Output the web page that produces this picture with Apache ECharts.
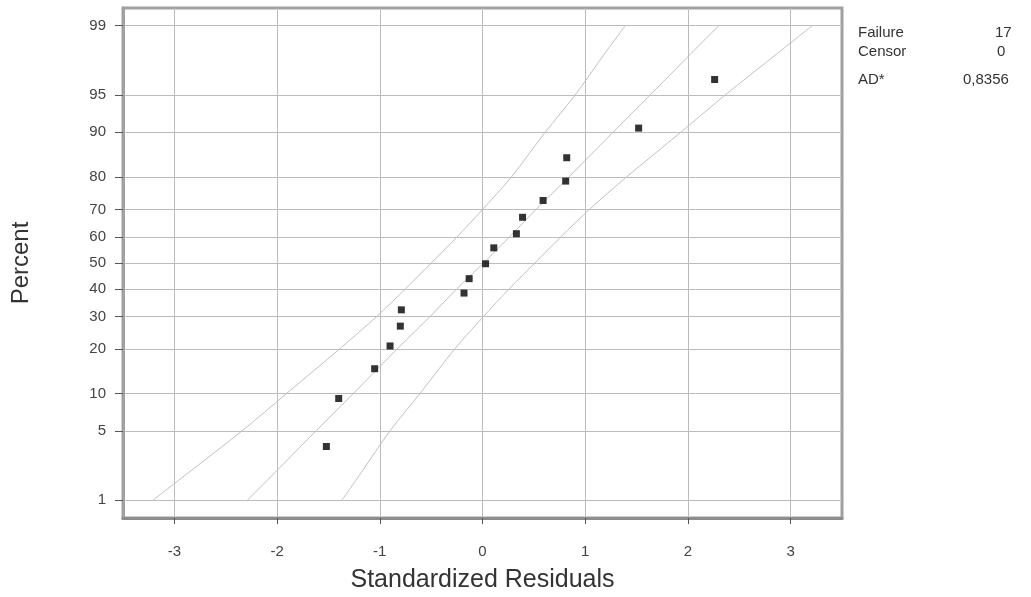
<!DOCTYPE html>
<html>
<head>
<meta charset="utf-8">
<script src="https://cdn.jsdelivr.net/npm/echarts@6/dist/echarts.min.js"></script>
<style>
  html, body { margin: 0; padding: 0; background: #fff; }
  #main { width: 1031px; height: 597px; }
</style>
</head>
<body>
<div id="main"></div>
<script>
// points
var residuals = [-1.52, -1.40, -1.05, -0.90, -0.80, -0.79, -0.18, -0.13, 0.03, 0.11, 0.33, 0.39, 0.59, 0.81, 0.82, 1.52, 2.26];
var percents = [3.6, 9.2, 15.0, 20.8, 26.8, 32.3, 38.4, 43.9, 49.7, 55.9, 61.3, 67.3, 73.0, 78.9, 84.9, 90.7, 96.4];

// fitted line and confidence bounds, x read at these percent levels
var bandPcts = [1, 2, 5, 10, 20, 30, 40, 50, 60, 70, 80, 90, 95, 98, 99];
var fitLine = [-2.29, -2.02, -1.62, -1.26, -0.83, -0.51, -0.25, 0.01, 0.26, 0.52, 0.84, 1.27, 1.63, 2.03, 2.30];
var leftBound = [-3.21, -2.86, -2.34, -1.91, -1.39, -1.03, -0.75, -0.50, -0.25, 0.00, 0.28, 0.61, 0.90, 1.19, 1.39];
var rightBound = [-1.37, -1.18, -0.90, -0.61, -0.27, 0.01, 0.26, 0.51, 0.76, 1.04, 1.40, 1.93, 2.36, 2.87, 3.21];

var yTicks = [1, 5, 10, 20, 30, 40, 50, 60, 70, 80, 90, 95, 99];
var xTicks = [-3, -2, -1, 0, 1, 2, 3];

var stats = [
  { label: "Failure", value: "17" },
  { label: "Censor", value: "0" },
  { label: "AD*", value: "0,8356" }
];

// normal probability scale (inverse normal cdf, Acklam)
function probit(p) {
  var a = [-39.69683028665376, 220.9460984245205, -275.9285104469687, 138.3577518672690, -30.66479806614716, 2.506628277459239];
  var b = [-54.47609879822406, 161.5858368580409, -155.6989798598866, 66.80131188771972, -13.28068155288572];
  var c = [-0.007784894002430293, -0.3223964580411365, -2.400758277161838, -2.549732539343734, 4.374664141464968, 2.938163982698783];
  var d = [0.007784695709041462, 0.3224671290700398, 2.445134137142996, 3.754408661907416];
  var pl = 0.02425, q, r;
  if (p < pl) {
    q = Math.sqrt(-2 * Math.log(p));
    return (((((c[0] * q + c[1]) * q + c[2]) * q + c[3]) * q + c[4]) * q + c[5]) / ((((d[0] * q + d[1]) * q + d[2]) * q + d[3]) * q + 1);
  }
  if (p > 1 - pl) {
    q = Math.sqrt(-2 * Math.log(1 - p));
    return -(((((c[0] * q + c[1]) * q + c[2]) * q + c[3]) * q + c[4]) * q + c[5]) / ((((d[0] * q + d[1]) * q + d[2]) * q + d[3]) * q + 1);
  }
  q = p - 0.5;
  r = q * q;
  return (((((a[0] * r + a[1]) * r + a[2]) * r + a[3]) * r + a[4]) * r + a[5]) * q / (((((b[0] * r + b[1]) * r + b[2]) * r + b[3]) * r + b[4]) * r + 1);
}

function toZ(pct) { return probit(pct / 100); }

var yTickZ = yTicks.map(toZ);

function linePairs(xs) {
  return xs.map(function (x, i) { return [x, toZ(bandPcts[i])]; });
}

var lineStyleBand = { color: "#c2c2c2", width: 1 };

var myChart = echarts.init(document.getElementById("main"));

var graphics = [];
stats.forEach(function (s, i) {
  var y = [33, 52, 80][i];
  graphics.push({
    type: "text", left: 858, top: y - 8,
    style: { text: s.label, font: "15px 'Liberation Sans', Arial, sans-serif", fill: "#333" }
  });
  graphics.push({
    type: "text", left: [995, 997, 963][i], top: y - 8,
    style: { text: s.value, font: "15px 'Liberation Sans', Arial, sans-serif", fill: "#333" }
  });
});

var option = {
  animation: false,
  backgroundColor: "#fff",
  textStyle: { fontFamily: "'Liberation Sans', Arial, sans-serif" },
  grid: {
    left: 123, top: 8, width: 719, height: 510,
    show: true, borderColor: "#a0a0a0", borderWidth: 3,
    containLabel: false, outerBoundsMode: "none"
  },
  graphic: graphics,
  xAxis: {
    type: "value",
    min: -3.5, max: 3.5,
    name: "Standardized Residuals",
    nameLocation: "middle",
    nameGap: 50,
    nameTextStyle: { fontSize: 25, color: "#333" },
    axisLine: { show: true, onZero: false, lineStyle: { color: "#8c8c8c", width: 3 } },
    axisTick: { show: true, length: 6, customValues: xTicks, lineStyle: { color: "#555", width: 1 } },
    axisLabel: {
      customValues: xTicks, margin: 26, fontSize: 15, color: "#444",
      formatter: function (v) { return String(Math.round(v)); }
    },
    splitLine: { show: true, lineStyle: { color: "#bcbcbc", width: 1 } }
  },
  yAxis: {
    type: "value",
    min: -2.5, max: 2.5,
    name: "Percent",
    nameLocation: "middle",
    nameGap: 90,
    nameTextStyle: { fontSize: 24, color: "#333" },
    axisLine: { show: true, onZero: false, lineStyle: { color: "#a0a0a0", width: 3 } },
    axisTick: { show: true, length: 8, customValues: yTickZ, lineStyle: { color: "#555", width: 1 } },
    axisLabel: {
      customValues: yTickZ, margin: 17, fontSize: 15, color: "#444",
      formatter: function (v) {
        for (var i = 0; i < yTicks.length; i++) {
          if (Math.abs(yTickZ[i] - v) < 1e-3) return String(yTicks[i]);
        }
        return "";
      }
    },
    splitLine: { show: true, lineStyle: { color: "#bcbcbc", width: 1 } }
  },
  series: [
    { type: "line", data: linePairs(leftBound), smooth: 0.3, showSymbol: false, silent: true, lineStyle: lineStyleBand, z: 2 },
    { type: "line", data: linePairs(fitLine), showSymbol: false, silent: true, lineStyle: lineStyleBand, z: 2 },
    { type: "line", data: linePairs(rightBound), smooth: 0.3, showSymbol: false, silent: true, lineStyle: lineStyleBand, z: 2 },
    {
      type: "scatter",
      data: residuals.map(function (x, i) { return [x, toZ(percents[i])]; }),
      symbol: "rect", symbolSize: 7,
      itemStyle: { color: "#000" },
      z: 3
    }
  ]
};

myChart.setOption(option);
</script>
</body>
</html>
